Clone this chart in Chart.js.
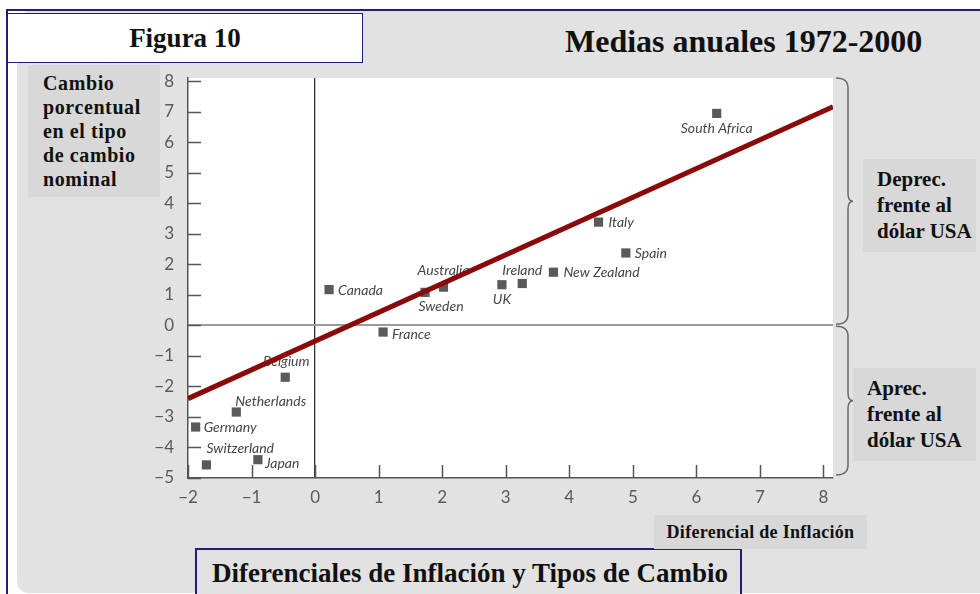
<!DOCTYPE html>
<html><head><meta charset="utf-8">
<script src="https://cdn.jsdelivr.net/npm/chart.js@4"></script>
<style>
html,body{margin:0;padding:0;background:#fff;width:980px;height:594px;overflow:hidden;position:relative;}
.abs{position:absolute;}
.serif{font-family:"Liberation Serif","Times New Roman",serif;font-weight:bold;color:#111;white-space:nowrap;}
#bg{left:17px;top:11px;width:990px;height:582px;background:#e2e2e2;border-radius:12px;}
#navyTop{left:6px;top:9px;width:974px;height:2px;background:#1f1f7a;}
#navyLeft{left:6px;top:9px;width:2px;height:590px;background:#1f1f7a;}
#fig{left:7px;top:13px;width:354px;height:48px;background:#fff;border:1.5px solid #1f1f7a;text-align:center;font-size:27px;line-height:48px;}
#medias{left:565px;top:25px;font-size:32px;line-height:32px;}
#ylab{left:28px;top:65px;width:132px;height:132px;background:#d8d8d8;}
#ylabT{left:43px;top:71px;font-size:20px;line-height:24px;letter-spacing:0.6px;}
#dep{left:863px;top:159px;width:113px;height:93px;background:#d8d8d8;}
#depT{left:877px;top:166px;font-size:21px;line-height:26px;}
#apr{left:853px;top:368px;width:123px;height:93px;background:#d8d8d8;}
#aprT{left:867px;top:375px;font-size:21px;line-height:26px;}
#bottom{left:195px;top:548px;width:543px;height:60px;border:2px solid #1f1f7a;background:#e2e2e2;}
#bottomT{left:212px;top:558px;font-size:27px;line-height:30px;letter-spacing:0px;}
#xlab{left:654px;top:515px;width:213px;height:34px;background:#d8d8d8;text-align:center;font-size:18px;line-height:34px;letter-spacing:0.3px;}
#c{position:absolute;left:0;top:0;}
</style></head>
<body>
<div id="bg" class="abs"></div>
<div id="navyTop" class="abs"></div>
<div id="navyLeft" class="abs"></div>
<div id="fig" class="abs serif">Figura 10</div>
<div id="medias" class="abs serif">Medias anuales 1972-2000</div>
<div id="ylab" class="abs"></div>
<div id="ylabT" class="abs serif">Cambio<br>porcentual<br>en el tipo<br>de cambio<br>nominal</div>
<div id="dep" class="abs"></div>
<div id="depT" class="abs serif">Deprec.<br>frente al<br>dólar USA</div>
<div id="apr" class="abs"></div>
<div id="aprT" class="abs serif">Aprec.<br>frente al<br>dólar USA</div>
<div id="bottom" class="abs"></div>
<div id="bottomT" class="abs serif">Diferenciales de Inflación y Tipos de Cambio</div>
<canvas id="c" width="980" height="594"></canvas>
<div id="xlab" class="abs serif">Diferencial de Inflación</div>
<script>
// ---- data ----
const countries = ["South Africa","Italy","Spain","New Zealand","Ireland","UK","Australia","Sweden","Canada","France","Belgium","Netherlands","Germany","Switzerland","Japan"];
const inflationDiff = [6.32, 4.46, 4.89, 3.75, 3.26, 2.94, 2.02, 1.73, 0.22, 1.07, -0.47, -1.24, -1.88, -1.71, -0.90];
const exchangeChange = [6.94, 3.38, 2.37, 1.74, 1.37, 1.33, 1.25, 1.08, 1.17, -0.22, -1.70, -2.84, -3.33, -4.57, -4.40];
const trendX = [-2, 8.15];
const trendY = [-2.40, 7.16];
const xTickValues = [-2, -1, 0, 1, 2, 3, 4, 5, 6, 7, 8];
const yTickValues = [-5, -4, -3, -2, -1, 0, 1, 2, 3, 4, 5, 6, 7, 8];

// ---- label placement (styling, not data) ----
const labelPlace = {
  "South Africa": {dx: 0, dy: 15, align: "center"},
  "Italy": {dx: 10, dy: 0, align: "left"},
  "Spain": {dx: 9, dy: 1, align: "left"},
  "New Zealand": {dx: 10, dy: 0, align: "left"},
  "Ireland": {dx: 0, dy: -13, align: "center"},
  "UK": {dx: 0, dy: 15, align: "center"},
  "Australia": {dx: 0, dy: -17, align: "center"},
  "Sweden": {dx: 16, dy: 14, align: "center"},
  "Canada": {dx: 9, dy: 1, align: "left"},
  "France": {dx: 9, dy: 2, align: "left"},
  "Belgium": {dx: 1, dy: -16, align: "center"},
  "Netherlands": {dx: -1, dy: -11, align: "left"},
  "Germany": {dx: 8, dy: 0, align: "left"},
  "Switzerland": {dx: 0, dy: -16, align: "left"},
  "Japan": {dx: 7, dy: 4, align: "left"}
};

const fmt = v => String(v).replace('-', '\u2212');

function drawBrace(ctx, x0, yTop, yBot) {
  const ym = (yTop + yBot) / 2, xv = x0 + 12, xt = x0 + 17;
  ctx.beginPath();
  ctx.moveTo(x0, yTop);
  ctx.quadraticCurveTo(xv, yTop, xv, yTop + 10);
  ctx.lineTo(xv, ym - 8);
  ctx.quadraticCurveTo(xv, ym, xt, ym);
  ctx.quadraticCurveTo(xv, ym, xv, ym + 8);
  ctx.lineTo(xv, yBot - 10);
  ctx.quadraticCurveTo(xv, yBot, x0, yBot);
  ctx.stroke();
}

const decor = {
  id: 'decor',
  beforeDraw(chart) {
    const {ctx, chartArea: a} = chart;
    ctx.save();
    ctx.fillStyle = '#ffffff';
    ctx.fillRect(a.left, a.top, a.right - a.left, a.bottom - a.top);
    ctx.restore();
  },
  afterDatasetDraw(chart, args) {
    if (args.index !== 0) return;
    const {ctx} = chart;
    const meta = chart.getDatasetMeta(0);
    ctx.save();
    ctx.font = 'italic 14px Lato, "Open Sans", sans-serif';
    ctx.fillStyle = '#454545';
    ctx.textBaseline = 'middle';
    meta.data.forEach((pt, i) => {
      const name = countries[i];
      const p = labelPlace[name];
      ctx.textAlign = p.align;
      ctx.fillText(name, pt.x + p.dx, pt.y + p.dy);
    });
    ctx.restore();
  },
  afterDatasetsDraw(chart) {
    const {ctx, chartArea: a, scales: {x, y}} = chart;
    ctx.save();
    ctx.strokeStyle = '#555';
    ctx.lineWidth = 1.5;
    xTickValues.forEach(v => {
      const px = Math.round(x.getPixelForValue(v)) + 0.5;
      ctx.beginPath(); ctx.moveTo(px, a.bottom); ctx.lineTo(px, a.bottom - 13); ctx.stroke();
    });
    yTickValues.forEach(v => {
      const py = Math.round(y.getPixelForValue(v)) + 0.5;
      ctx.beginPath(); ctx.moveTo(a.left, py); ctx.lineTo(a.left + 13, py); ctx.stroke();
    });
    ctx.strokeStyle = '#6a6a6a';
    ctx.lineWidth = 1.5;
    const y0 = y.getPixelForValue(0);
    drawBrace(ctx, a.right + 3, a.top, y0 - 1);
    drawBrace(ctx, a.right + 3, y0 + 1, y.getPixelForValue(-4.9));
    ctx.restore();
  }
};

new Chart(document.getElementById('c'), {
  type: 'scatter',
  data: {
    datasets: [
      {
        label: 'Países',
        data: countries.map((c, i) => ({x: inflationDiff[i], y: exchangeChange[i]})),
        pointStyle: 'rect',
        pointRadius: 6.5,
        pointHoverRadius: 6.5,
        backgroundColor: '#5a5a5a',
        borderWidth: 0,
        order: 1
      },
      {
        label: 'Tendencia',
        data: trendX.map((v, i) => ({x: v, y: trendY[i]})),
        showLine: true,
        borderColor: '#8a0a0a',
        borderWidth: 5,
        borderCapStyle: 'butt',
        pointRadius: 0,
        order: 0
      }
    ]
  },
  options: {
    responsive: false,
    animation: false,
    devicePixelRatio: 1,
    layout: {padding: {left: 0, top: 78, right: 147, bottom: 0}},
    plugins: {legend: {display: false}, tooltip: {enabled: false}},
    scales: {
      x: {
        type: 'linear', min: -2, max: 8.15,
        afterFit: s => { s.height = 116; },
        afterBuildTicks: s => { s.ticks = xTickValues.map(v => ({value: v})); },
        grid: {
          drawTicks: false,
          color: c => (c.tick && c.tick.value === 0) ? '#333333' : 'rgba(0,0,0,0)',
          lineWidth: 1.3
        },
        border: {display: true, color: '#555', width: 1.5},
        ticks: {
          autoSkip: false, maxRotation: 0, padding: 9,
          color: '#5a5a5a',
          font: {family: 'Lato, "Open Sans", sans-serif', size: 17},
          callback: v => fmt(v)
        }
      },
      y: {
        type: 'linear', min: -5, max: 8.1,
        afterFit: s => { s.width = 188; },
        afterBuildTicks: s => { s.ticks = yTickValues.map(v => ({value: v})); },
        grid: {
          drawTicks: false,
          color: c => (c.tick && c.tick.value === 0) ? '#9a9a9a' : 'rgba(0,0,0,0)',
          lineWidth: 2
        },
        border: {display: true, color: '#555', width: 1.5},
        ticks: {
          autoSkip: false, padding: 14,
          color: '#5a5a5a',
          font: {family: 'Lato, "Open Sans", sans-serif', size: 17},
          callback: v => fmt(v)
        }
      }
    }
  },
  plugins: [decor]
});
</script>
</body></html>
